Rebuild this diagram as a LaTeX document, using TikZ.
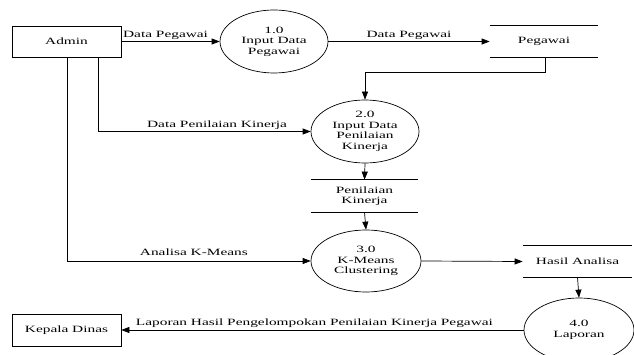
\documentclass[tikz,border=0pt]{standalone}
\usepackage{fontspec}
\setmainfont{Liberation Serif}[FakeStretch=1.6]
\usetikzlibrary{shapes.geometric,arrows.meta}
\begin{document}
\begin{tikzpicture}[x=1pt,y=-1pt,
  every node/.style={font=\fontsize{9.6}{10.5}\selectfont},
  entity/.style={draw,rectangle,minimum width=109pt,minimum height=31pt,inner sep=0pt},
  proc/.style={draw,ellipse,minimum width=108pt,minimum height=63pt,inner sep=0pt,align=center},
  store/.style={rectangle,minimum width=108pt,minimum height=31pt,inner sep=0pt,align=center},
  lbl/.style={inner sep=2pt},
  arr/.style={-{Triangle[length=8pt,width=6pt]},line width=0.7pt},
  line width=0.7pt]
\useasboundingbox (0,0) rectangle (634,355);
\clip (0,0) rectangle (634,355);
\node[entity] (admin) at (66.5,41.5) {Admin};
\node[entity,minimum height=32pt] (kepala) at (66.5,330) {Kepala Dinas};
\node[proc] (p1) at (274,41.5) {1.0\\Input Data\\Pegawai};
\node[proc] (p2) at (365,131.5) {2.0\\Input Data\\Penilaian\\Kinerja};
\node[proc,minimum width=110pt,minimum height=62pt] (p3) at (366,261) {3.0\\K-Means\\Clustering};
\node[proc,minimum width=110pt,minimum height=64pt] (p4) at (579,330) {4.0\\Laporan};
\node[store] (pegawai) at (544,41.5) {Pegawai};
\node[store,minimum width=107pt,minimum height=32pt] (pen) at (364.5,196) {Penilaian\\Kinerja};
\node[store,minimum width=109pt] (hasil) at (577.5,261.5) {Hasil Analisa};
\foreach \s in {pegawai,pen,hasil}{
  \draw (\s.north west) -- (\s.north east);
  \draw (\s.south west) -- (\s.south east);
}
\draw[arr] (admin.east) -- node[above,lbl,pos=0.45] {Data Pegawai} (p1.west);
\draw[arr] (p1.east) -- node[above,lbl] {Data Pegawai} (pegawai.west);
\draw[arr] ([xshift=1pt]pegawai.south) -- ++(0,15) -| (p2.north);
\draw[arr] ([xshift=31.5pt]admin.south) |- node[above,lbl,pos=0.78] {Data Penilaian Kinerja} (p2.west);
\draw[arr] ([xshift=1pt]admin.south) |- node[above,lbl,pos=0.76,yshift=3pt] {Analisa K-Means} (p3.west);
\draw[arr] (p2.south) -- (pen.north);
\draw[arr] (pen.south) -- (p3.north);
\draw[arr] (p3.east) -- (hasil.west);
\draw[arr] (hasil.south) -- (p4.north);
\draw[arr] (p4.west) -- node[above,lbl,pos=0.52] {Laporan Hasil Pengelompokan Penilaian Kinerja Pegawai} (kepala.east);
\end{tikzpicture}
\end{document}
